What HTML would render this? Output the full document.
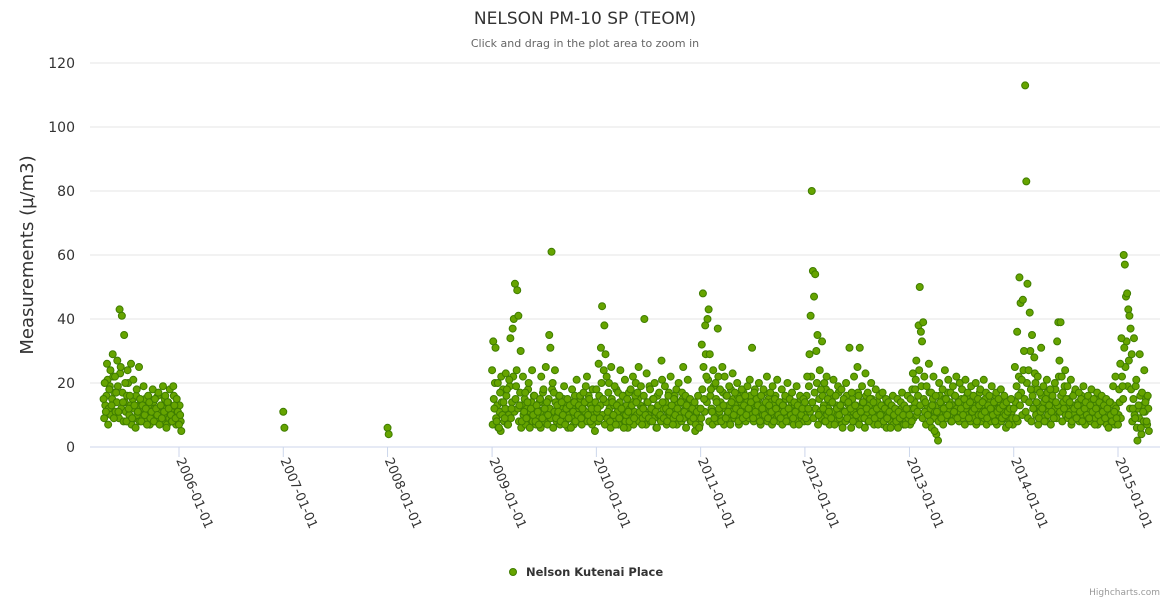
<!DOCTYPE html>
<html><head><meta charset="utf-8"><style>
body{margin:0;background:#fff;font-family:"DejaVu Sans","Liberation Sans",sans-serif}
svg{display:block}
</style></head><body>
<svg id="chart" width="1170" height="600">
<text x="585" y="24" text-anchor="middle" font-size="17" fill="#333">NELSON PM-10 SP (TEOM)</text>
<text x="585" y="47" text-anchor="middle" font-size="11" fill="#666">Click and drag in the plot area to zoom in</text>
<text transform="translate(33,255) rotate(-90)" text-anchor="middle" font-size="18" fill="#333">Measurements (µ/m3)</text>
<g id="grid"></g><g id="xaxis"></g><g id="points"></g>
<g>
<circle cx="513" cy="572" r="3.5" fill="#66a400" stroke="#3f7d00" stroke-width="1"/>
<text x="526" y="576" font-size="11.5" font-weight="bold" fill="#333">Nelson Kutenai Place</text>
</g>
<text x="1160" y="595" text-anchor="end" font-size="9" fill="#999">Highcharts.com</text>
</svg>
<script>
const yTicks=[0,20,40,60,80,100,120];
const xTickLabels=['2006-01-01','2007-01-01','2008-01-01','2009-01-01','2010-01-01','2011-01-01','2012-01-01','2013-01-01','2014-01-01','2015-01-01'];
const segmentStarts=['2005-04-12','2007-01-01','2008-01-01','2009-01-01','2010-01-01','2011-01-01','2012-01-01','2013-01-01','2014-01-01','2015-01-01'];
const segmentStep=4;
const values2005=[15,20,11,26,7,18,24,13,29,9,22,17,27,11,43,25,41,14,35,20,8,24,12,16,26,9,21,13,6,18,11,25,15,8,13,19,10,12,7,16,14,9,11,18,8,15,12,10,17,7,13,9,19,11,16,6,14,12,18,10,8,19,13,9,15,11,7,10,5];
const values2007=[11,6];
const values2008=[6,4];
const values2009=[24,33,12,31,8,20,6,17,22,10,14,9,23,18,7,21,34,12,37,40,51,19,49,41,13,30,8,22,11,17,9,14,20,6,12,24,10,16,8,13,11,7,15,22,9,18,12,25,14,10,35,31,61,20,17,24,9,13,11,16,8,14,10,19,7,12,15,9,13,6,18,11,14,8,21,10,13,16,9,12,17,14,19,22,10,15,8,12,18,9,5];
const values2010=[18,12,26,9,31,44,15,38,29,22,11,20,8,25,14,10,19,7,13,17,9,24,12,16,6,21,10,15,11,8,18,13,22,9,16,14,17,25,11,19,7,12,40,10,23,14,9,18,12,8,15,20,11,6,13,17,10,27,14,9,19,12,8,16,11,22,13,7,15,10,18,12,20,9,14,17,25,11,16,13,21,10,15,8,12,9,14,7,11,16,6];
const values2011=[12,32,48,15,38,22,40,43,29,18,11,24,9,20,14,37,12,18,8,25,13,22,9,16,11,19,7,14,23,10,17,12,20,8,15,11,18,9,13,16,10,19,12,21,14,31,9,17,11,15,13,20,8,16,12,18,10,14,22,9,13,17,11,19,8,15,12,21,10,14,9,18,13,11,16,8,20,12,15,10,17,9,14,11,19,13,7,16,10,12,15];
const values2012=[14,9,22,12,29,41,80,55,47,54,30,35,10,24,18,33,12,20,8,22,15,11,17,9,14,21,7,16,12,19,10,13,18,6,15,11,20,9,14,31,12,17,8,22,13,10,25,16,31,11,19,14,9,23,12,17,8,15,20,11,14,9,18,12,7,16,10,13,17,8,12,15,9,14,11,6,13,16,10,12,8,15,11,9,14,17,10,13,7,12,16];
const values2013=[10,15,8,23,12,18,27,11,38,50,36,33,39,22,14,19,10,26,8,17,13,22,5,16,11,2,20,14,9,18,12,24,15,10,21,13,17,8,19,11,16,22,9,14,20,12,18,10,15,21,13,17,9,14,19,11,16,12,20,8,15,13,18,10,14,21,11,17,9,13,16,12,19,10,14,8,17,11,15,12,18,9,13,16,10,14,11,7,12,15,9];
const values2014=[12,25,9,36,16,53,45,21,46,30,113,83,51,24,42,18,35,12,28,20,14,22,9,17,31,12,19,8,15,21,10,13,18,11,16,9,20,14,33,39,27,39,22,17,12,24,15,19,10,14,21,8,16,12,18,9,13,17,11,15,8,19,12,14,10,16,9,13,18,11,15,7,12,17,10,14,8,16,11,13,9,15,12,6,14,10,8,19,11,22,9];
const values2015=[7,18,26,34,19,60,57,47,48,43,41,37,29,12,34,9,21,2,13,29,6,17,11,24,14,8,16,5];
const segmentValues=[values2005,values2007,values2008,values2009,values2010,values2011,values2012,values2013,values2014,values2015];
// second reading per interval (offset 2 days), fills the dense baseline cloud
const extraStarts=['2005-04-14','2009-01-03','2010-01-03','2011-01-03','2012-01-03','2013-01-03','2014-01-03','2015-01-03'];
const extra2005=[9,13,16,21,12,19,10,15,22,17,11,14,19,9,23,12,17,8,14,11,16,20,10,13,7,15,12,9,16,10,13,8,11,14,9,12,15,8,10,13,7,11,9,14,12,8,10,16,11,9,13,8,12,15,10,7,14,9,11,8,12,16,10,7,12,9,13,8];
const extra2009=[7,15,20,9,13,6,11,5,14,18,8,12,16,7,10,19,9,14,22,11,15,24,12,8,17,6,13,10,15,7,12,18,9,11,14,8,16,10,7,12,9,14,6,11,17,8,13,10,7,15,12,9,18,6,11,14,8,10,16,7,12,9,15,11,8,13,6,10,14,9,12,7,16,11,8,13,10,15,7,12,9,11,14,8,16,10,13,7,11,9,14];
const extra2010=[11,8,16,13,20,10,24,7,14,9,17,12,6,15,10,13,8,18,11,7,14,9,12,16,10,8,13,6,17,12,9,14,7,11,20,10,15,8,13,12,9,16,11,7,14,10,19,8,12,15,9,11,6,16,10,13,8,21,12,9,14,7,11,17,10,8,13,9,16,12,7,14,10,11,8,15,9,13,6,12,10,14,8,11,9,13,5,10,12,8,7];
const extra2011=[9,18,25,11,29,14,21,8,16,12,7,19,10,15,8,22,11,14,9,17,7,12,16,10,13,8,18,11,15,9,13,10,16,7,12,14,9,17,11,8,14,12,9,16,10,13,8,18,12,9,15,11,7,13,10,17,9,12,8,15,11,14,7,13,10,16,9,12,8,14,11,7,13,10,15,9,12,8,11,14,10,7,13,9,12,8,11,15,9,10,8];
const extra2012=[10,16,8,19,11,22,14,9,17,12,20,7,15,11,9,16,13,8,18,10,12,7,14,9,16,11,8,13,10,17,9,12,7,14,11,8,16,10,13,9,6,15,11,8,13,10,17,7,12,9,14,11,6,16,10,8,13,9,15,11,7,12,10,14,8,11,9,13,7,10,12,6,11,9,13,8,10,7,12,9,11,6,10,8,12,9,7,11,8,10,9];
const extra2013=[7,12,18,9,14,21,10,16,24,13,19,9,15,11,7,13,10,17,12,6,15,9,11,4,13,8,16,10,13,7,15,11,9,17,12,14,8,13,10,16,9,12,14,8,11,15,9,13,7,12,16,10,14,8,11,13,9,15,7,12,10,17,8,13,11,9,15,7,12,10,14,8,11,13,9,16,7,12,10,14,8,11,9,13,6,10,12,8,9,11,7];
const extra2014=[9,14,19,8,22,13,17,10,24,15,11,20,9,14,30,8,16,12,23,10,18,7,13,11,16,9,14,12,8,17,11,13,7,15,10,12,18,9,13,22,11,16,8,14,19,10,12,9,15,11,7,13,10,17,9,12,14,8,11,16,10,13,7,12,9,15,11,8,13,10,14,9,12,7,11,15,9,13,8,10,12,7,11,9,14,8,10,13,7,12,9];
const extra2015=[10,14,9,22,15,31,25,33,19,27,12,18,8,15,10,19,6,12,9,16,4,13,8,11,15,7,12];
const extraValues=[extra2005,extra2009,extra2010,extra2011,extra2012,extra2013,extra2014,extra2015];

const NS='http://www.w3.org/2000/svg';
const plotL=90,plotR=1160,y0=447,yTop=63;
const t0=Date.UTC(2006,0,1),tYear=(Date.UTC(2015,0,1)-t0)/9;
function xPos(t){return 179+(t-t0)/tYear*(1118-179)/9;}
function yPos(v){return y0-(v/120)*(y0-yTop);}
const grid=document.getElementById('grid');
yTicks.forEach(v=>{
 const l=document.createElementNS(NS,'line');
 
 
 l.setAttribute('x1',plotL);l.setAttribute('x2',plotR);
 l.setAttribute('y1',yPos(v));l.setAttribute('y2',yPos(v));
 l.setAttribute('stroke',v===0?'#ccd6eb':'#e6e6e6');l.setAttribute('stroke-width','1');
 grid.appendChild(l);
 const t=document.createElementNS(NS,'text');
 
 
 t.setAttribute('x',75);t.setAttribute('y',yPos(v)+5);
 t.setAttribute('text-anchor','end');t.setAttribute('font-size','14');t.setAttribute('fill','#333');
 t.textContent=v;grid.appendChild(t);
});
const xa=document.getElementById('xaxis');
xTickLabels.forEach(s=>{
 const p=s.split('-').map(Number);
 const x=xPos(Date.UTC(p[0],p[1]-1,p[2]));
 const l=document.createElementNS(NS,'line');
 
 
 l.setAttribute('x1',x);l.setAttribute('x2',x);l.setAttribute('y1',y0);l.setAttribute('y2',y0+10);
 l.setAttribute('stroke','#ccd6eb');xa.appendChild(l);
 const t=document.createElementNS(NS,'text');
 
 
 t.setAttribute('transform','translate('+(x-3)+','+(y0+13)+') rotate(67)');
 t.setAttribute('font-size','13');t.setAttribute('fill','#333');
 t.textContent=s;xa.appendChild(t);
});
const pts=document.getElementById('points');
function plotSeries(starts,vals){
 starts.forEach((s,k)=>{
  const p=s.split('-').map(Number);
  const start=Date.UTC(p[0],p[1]-1,p[2]);
  vals[k].forEach((v,i)=>{
   const c=document.createElementNS(NS,'circle');
   
   
   c.setAttribute('cx',xPos(start+i*segmentStep*86400000));
   c.setAttribute('cy',yPos(v));c.setAttribute('r','3.5');
   c.setAttribute('fill','#66a400');c.setAttribute('stroke','#3f7d00');c.setAttribute('stroke-width','1');
   pts.appendChild(c);
  });
 });
}
plotSeries(extraStarts,extraValues);
plotSeries(segmentStarts,segmentValues);
</script>
</body></html>
